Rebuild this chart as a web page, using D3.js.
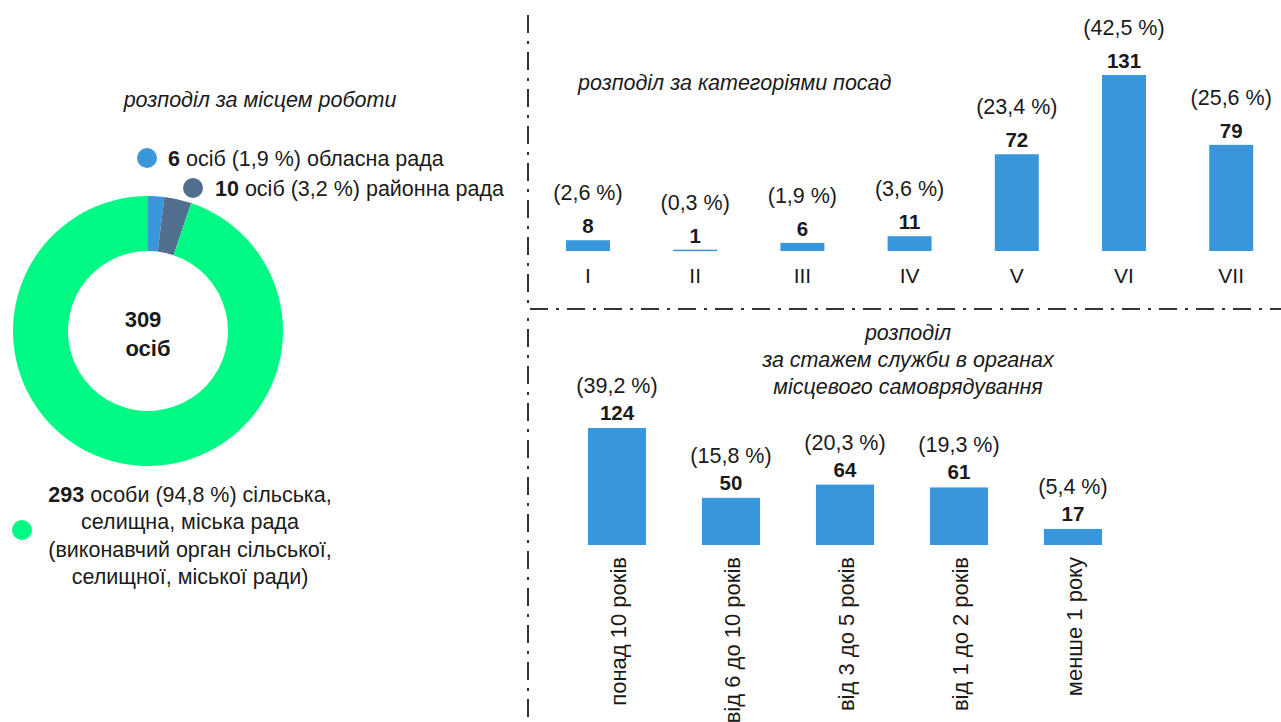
<!DOCTYPE html>
<html>
<head>
<meta charset="utf-8">
<title>Розподіл</title>
<script src="https://cdn.jsdelivr.net/npm/d3@7"></script>
<style>
body { margin: 0; background: #fff; }
text { font-family: "Liberation Sans", Arial, sans-serif; fill: #1a1a1a; }
.ttl { font-style: italic; font-size: 21.5px; }
.pct { font-size: 21.5px; }
.val { font-size: 20.5px; font-weight: bold; }
.sep { stroke: #333; stroke-width: 2; fill: none; }
</style>
</head>
<body>
<script>
// розподіл за місцем роботи
var placeValues = [6, 10, 293];
var placePct = ["1,9", "3,2", "94,8"];
var placeColors = ["#3a97dc", "#516e8f", "#00f985"];
var total = 309;

// розподіл за категоріями посад
var posCategories = ["I", "II", "III", "IV", "V", "VI", "VII"];
var posValues = [8, 1, 6, 11, 72, 131, 79];
var posPct = ["2,6", "0,3", "1,9", "3,6", "23,4", "42,5", "25,6"];

// розподіл за стажем
var stazhCategories = ["понад 10 років", "від 6 до 10 років", "від 3 до 5 років", "від 1 до 2 років", "менше 1 року"];
var stazhValues = [124, 50, 64, 61, 17];
var stazhPct = ["39,2", "15,8", "20,3", "19,3", "5,4"];

var barColor = "#3996db";

var width = 1281, height = 722;
var svg = d3.select("body").append("svg").attr("width", width).attr("height", height);

// separators
svg.append("path").attr("class", "sep")
  .attr("d", "M528,15V309H1281")
  .attr("stroke-dasharray", "18,8,3,8");
svg.append("line").attr("class", "sep")
  .attr("x1", 528).attr("x2", 528).attr("y1", 318).attr("y2", 722)
  .attr("stroke-dasharray", "3,8,18,8");

// ---- donut ----
var cx = 148, cy = 331;
var pie = d3.pie().sort(null).value(function(d){ return d; });
var arc = d3.arc().innerRadius(80).outerRadius(135);
var g = svg.append("g").attr("transform", "translate(" + cx + "," + cy + ")");
g.selectAll("path").data(pie(placeValues)).enter().append("path")
  .attr("d", arc)
  .attr("fill", function(d, i){ return placeColors[i]; });

g.append("text").attr("class", "val").attr("text-anchor", "middle")
  .attr("x", -5).attr("y", -4).style("font-size", "22px").text(total);
g.append("text").attr("class", "val").attr("text-anchor", "middle")
  .attr("x", 0).attr("y", 25).style("font-size", "22px").text("осіб");

svg.append("text").attr("class", "ttl").attr("x", 260).attr("y", 107)
  .attr("text-anchor", "middle").text("розподіл за місцем роботи");

// legend
var leg = [
  {x: 147, y: 158, tx: 168, ty: 166, rest: " осіб (" + placePct[0] + " %) обласна рада"},
  {x: 193, y: 188, tx: 215, ty: 196, rest: " осіб (" + placePct[1] + " %) районна рада"}
];
leg.forEach(function(l, i){
  svg.append("circle").attr("cx", l.x).attr("cy", l.y).attr("r", 10).attr("fill", placeColors[i]);
  var t = svg.append("text").attr("x", l.tx).attr("y", l.ty).style("font-size", "21.5px");
  t.append("tspan").style("font-weight", "bold").text(placeValues[i]);
  t.append("tspan").text(l.rest);
});
svg.append("circle").attr("cx", 22).attr("cy", 530).attr("r", 10).attr("fill", placeColors[2]);
var lines3 = [
  [placeValues[2] + "", " особи (" + placePct[2] + " %) сільська,"],
  ["", "селищна, міська рада"],
  ["", "(виконавчий орган сільської,"],
  ["", "селищної, міської ради)"]
];
lines3.forEach(function(l, i){
  var t = svg.append("text").attr("x", 190).attr("y", 502 + i * 27.4)
    .attr("text-anchor", "middle").style("font-size", "21.5px");
  if (l[0]) t.append("tspan").style("font-weight", "bold").text(l[0]);
  t.append("tspan").text(l[1]);
});

// ---- positions chart ----
var x1 = d3.scaleBand().domain(posCategories).range([534.4, 1284.8])
  .paddingInner(0.59).paddingOuter(0.295);
var y1 = d3.scaleLinear().domain([0, 131]).range([251, 75]);

svg.append("text").attr("class", "ttl").attr("x", 578).attr("y", 90).text("розподіл за категоріями посад");

var gTop = svg.append("g");
gTop.selectAll("rect").data(posValues).enter().append("rect")
  .attr("x", function(d, i){ return x1(posCategories[i]); })
  .attr("y", function(d){ return y1(d); })
  .attr("width", x1.bandwidth())
  .attr("height", function(d){ return Math.max(1.5, y1(0) - y1(d)); })
  .attr("fill", barColor);
gTop.selectAll(".val").data(posValues).enter().append("text").attr("class", "val")
  .attr("text-anchor", "middle")
  .attr("x", function(d, i){ return x1(posCategories[i]) + x1.bandwidth() / 2; })
  .attr("y", function(d){ return y1(d) - 7; })
  .text(function(d){ return d; });
gTop.selectAll(".pct").data(posPct).enter().append("text").attr("class", "pct")
  .attr("text-anchor", "middle")
  .attr("x", function(d, i){ return x1(posCategories[i]) + x1.bandwidth() / 2; })
  .attr("y", function(d, i){ return y1(posValues[i]) - 40; })
  .text(function(d){ return "(" + d + " %)"; });

var ax1 = svg.append("g").attr("transform", "translate(0,251)")
  .call(d3.axisBottom(x1).tickSize(0).tickPadding(17));
ax1.select(".domain").remove();
ax1.selectAll("text").style("font-size", "21px").attr("fill", "#1a1a1a")
  .style("font-family", "'Liberation Sans', Arial, sans-serif");

// ---- experience chart ----
var x2 = d3.scaleBand().domain(stazhCategories).range([560, 1130])
  .paddingInner(0.49).paddingOuter(0.245);
var y2 = d3.scaleLinear().domain([0, 124]).range([545, 428]);

var tt = svg.append("text").attr("class", "ttl").attr("text-anchor", "middle");
["розподіл", "за стажем служби в органах", "місцевого самоврядування"].forEach(function(s, i){
  tt.append("tspan").attr("x", 908).attr("y", 340 + i * 27).text(s);
});

var gBot = svg.append("g");
gBot.selectAll("rect").data(stazhValues).enter().append("rect")
  .attr("x", function(d, i){ return x2(stazhCategories[i]); })
  .attr("y", function(d){ return y2(d); })
  .attr("width", x2.bandwidth())
  .attr("height", function(d){ return y2(0) - y2(d); })
  .attr("fill", barColor);
gBot.selectAll(".val").data(stazhValues).enter().append("text").attr("class", "val")
  .attr("text-anchor", "middle")
  .attr("x", function(d, i){ return x2(stazhCategories[i]) + x2.bandwidth() / 2; })
  .attr("y", function(d){ return y2(d) - 8; })
  .text(function(d){ return d; });
gBot.selectAll(".pct").data(stazhPct).enter().append("text").attr("class", "pct")
  .attr("text-anchor", "middle")
  .attr("x", function(d, i){ return x2(stazhCategories[i]) + x2.bandwidth() / 2; })
  .attr("y", function(d, i){ return y2(stazhValues[i]) - 35; })
  .text(function(d){ return "(" + d + " %)"; });

var ax2 = svg.append("g").attr("transform", "translate(0,545)")
  .call(d3.axisBottom(x2).tickSize(0).tickPadding(0));
ax2.select(".domain").remove();
ax2.selectAll("text")
  .attr("y", 0).attr("dy", 0)
  .attr("transform", "translate(9,12) rotate(-90)")
  .attr("text-anchor", "end")
  .attr("fill", "#1a1a1a")
  .style("font-size", "22px")
  .style("font-family", "'Liberation Sans', Arial, sans-serif");
</script>
</body>
</html>
